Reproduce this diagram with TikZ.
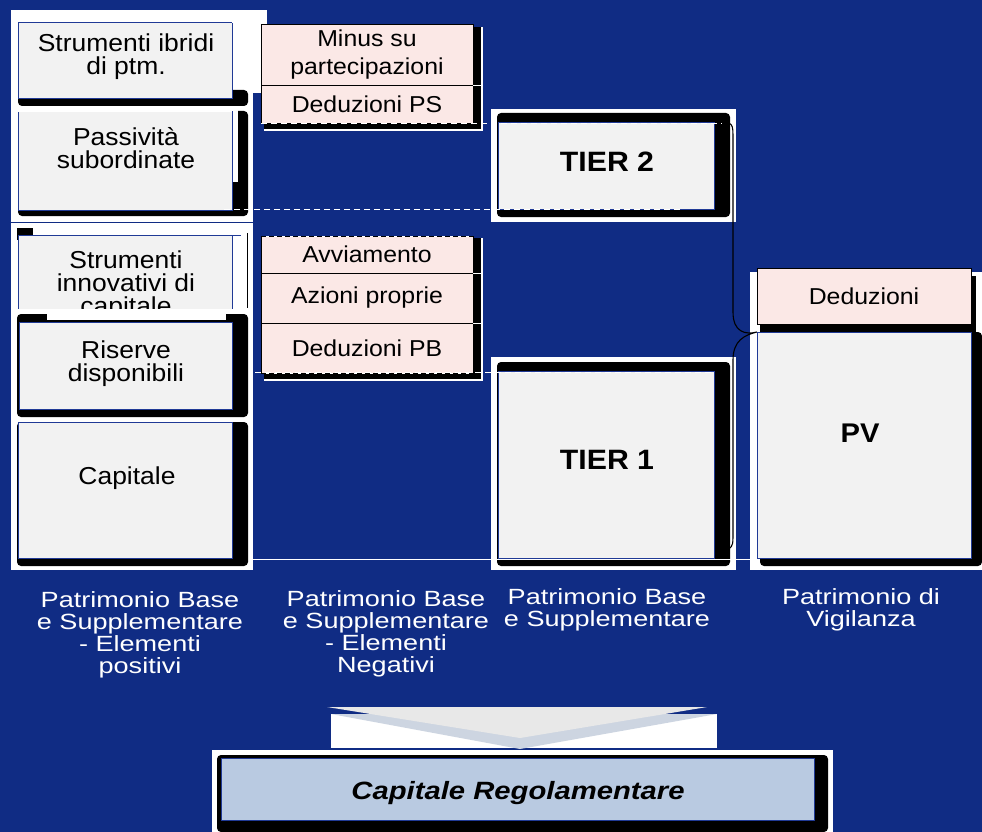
\documentclass[tikz,border=0pt]{standalone}
\usepackage{fontspec}
\setmainfont{Liberation Sans}
\newfontfamily\boxfont[FakeStretch=1.08]{Liberation Sans}
\newfontfamily\lblfont[FakeStretch=1.23]{Liberation Sans}
\newfontfamily\capfont[FakeStretch=1.17]{Liberation Sans}
\usetikzlibrary{positioning}
\definecolor{navy}{RGB}{16,44,132}
\definecolor{boxgray}{RGB}{242,242,242}
\definecolor{pinkfill}{RGB}{251,232,230}
\definecolor{edgeblue}{RGB}{32,58,150}
\definecolor{capfill}{RGB}{185,202,225}
\definecolor{chevgray}{RGB}{232,232,232}
\definecolor{chevblue}{RGB}{205,213,225}
\tikzset{>=latex}
\tikzset{
  graybox/.style={draw=edgeblue, line width=0.9pt, fill=boxgray, anchor=north west, inner sep=0pt, outer sep=0pt},
  pinkbox/.style={draw=black, line width=0.8pt, fill=pinkfill, anchor=north west, inner sep=0pt, outer sep=0pt, minimum width=212pt, align=center, font=\boxfont\fontsize{23}{28}\selectfont},
  boxtext/.style={align=center, inner sep=0pt, font=\boxfont\fontsize{24.5}{23}\selectfont},
  tiertext/.style={inner sep=0pt, font=\boxfont\bfseries\fontsize{28}{30}\selectfont},
  coltitle/.style={text=white, align=center, inner sep=0pt, font=\lblfont\fontsize{22}{22}\selectfont},
  wdash/.style={draw=white, line width=0.8pt, dash pattern=on 6pt off 4pt},
  shade/.style={fill=black, rounded corners=4pt},
}

\begin{document}
\begin{tikzpicture}[x=1pt, y=-1pt]

\fill[navy] (0,0) rectangle (982,832);
\useasboundingbox (0,0) rectangle (982,832);

% elementi positivi
\fill[white] (11,10) rectangle (253,570);
\fill[white] (233,10) rectangle (267,93);
\draw[navy, line width=1.2pt] (11,222.5) -- (253,222.5);

\fill[shade] (18,90) rectangle (248,106);
\node[graybox, minimum width=214pt, minimum height=76pt] (ibr) at (18,22) {};
\node[boxtext] (ibrtxt) at (126,57) {Strumenti ibridi\\di ptm.};

\fill[shade] (18,111) rectangle (248,216);
\fill[white] (232,108) rectangle (238,182);
\node[graybox, minimum width=214pt, minimum height=99pt] (pas) at (18,111) {};
\draw[white, line width=1.2pt] (pas.north west) -- (pas.north east);
\node[boxtext] (pastxt) at (126,148) {Passività\\subordinate};

\begin{scope}
\clip (10,226) rectangle (253,308);
\fill[black] (17,228) rectangle (33,240);
\node[graybox, minimum width=214pt, minimum height=100pt] (inn) at (18,235) {};
\node[boxtext, anchor=north] (inntxt) at (126,251) {Strumenti\\innovativi di\\capitale};
\end{scope}
\draw[edgeblue, line width=0.9pt] (inn.north east) -- ++(9,0);
\draw[black, line width=0.5pt] (247,233) -- (247,308);

\fill[shade] (17,314) rectangle (248,417);
\fill[white] (47,314) rectangle (226,320);
\node[graybox, minimum width=213pt, minimum height=87pt] (ris) at (19,322) {};
\node[boxtext] (ristxt) at (126,364) {Riserve\\disponibili};

\fill[shade] (17,422) rectangle (248,566);
\node[graybox, minimum width=214pt, minimum height=136pt] (cap) at (18,422) {};
\node[boxtext] (captxt) at (127,478) {Capitale};

% elementi negativi
\fill[white] (264,27) rectangle (483,131);
\fill[black] (264,27) rectangle (481,129);
\node[pinkbox, minimum height=61pt] (minus) at (261,24) {Minus su\\partecipazioni};
\node[pinkbox, minimum height=38pt] (dedps) at (261,85) {Deduzioni PS};
\draw[white, line width=0.8pt] (dedps.north east) -- ++(10,0);

\fill[white] (264,238) rectangle (483,381);
\fill[black] (264,238) rectangle (481,379);
\node[pinkbox, minimum height=37pt] (avv) at (261,236) {Avviamento};
\node[pinkbox, minimum height=50pt] (azi) at (261,273) {Azioni proprie};
\node[pinkbox, minimum height=50pt] (dedpb) at (261,323) {Deduzioni PB};
\draw[white, line width=1pt] (avv.north west) -- (avv.north east);
\draw[black, line width=1pt, dash pattern=on 5pt off 3pt] (avv.north west) -- (avv.north east);
\draw[white, line width=1pt] (dedpb.south west) -- (dedpb.south east);
\draw[black, line width=1pt, dash pattern=on 5pt off 3pt] (dedpb.south west) -- (dedpb.south east);
\draw[white, line width=0.8pt] (azi.north east) -- ++(10,0);
\draw[white, line width=0.8pt] (dedpb.north east) -- ++(10,0);

% tier
\fill[white] (491,109) rectangle (736,222);
\fill[shade] (497,113) rectangle (730,217);
\node[graybox, minimum width=216pt, minimum height=87pt] (tier2) at (498,122) {};
\node[tiertext] (t2txt) at (607,162) {TIER 2};

\fill[white] (491,357) rectangle (736,570);
\fill[shade] (497,362) rectangle (730,566);
\node[graybox, minimum width=216pt, minimum height=187pt] (tier1) at (498,371) {};
\node[tiertext] (t1txt) at (607,460) {TIER 1};

% vigilanza
\fill[white] (750,272) rectangle (982,570);
\fill[black] (760,276) rectangle (976,332);
\fill[shade] (760,332) rectangle (982,566);
\node[pinkbox, minimum width=214pt, minimum height=56pt] (ded) at (757,268) {Deduzioni};
\node[graybox, minimum width=214pt, minimum height=226pt] (pv) at (757,332) {};
\node[tiertext, font=\boxfont\bfseries\fontsize{27}{30}\selectfont] (pvtxt) at (860,433) {PV};

% linee tratteggiate
\draw[wdash] (232,22) -- (265,22);
\draw[wdash] (261,123) -- (722,123);
\draw[wdash] (224,209) -- (680,209);
\draw[wdash] (255,372) -- (713,372);
\draw[white, line width=0.8pt] (253,559.5) -- (750,559.5);

% graffa
\coordinate (brend) at (729,549);
\draw[line width=1.1pt] ([xshift=6pt]tier2.north east) .. controls (733,123) .. (733,140)
  -- (733,312) .. controls (733,332) and (745,335) .. (pv.north west)
  .. controls (745,335) and (733,340) .. (733,360)
  -- (733,530) .. controls (733,545) .. (brend);

% titoli colonne
\node[coltitle] (col1) at (140,635) {Patrimonio Base\\e Supplementare\\- Elementi\\positivi};
\node[coltitle] (col2) at (386,634) {Patrimonio Base\\e Supplementare\\- Elementi\\Negativi};
\node[coltitle] (col3) at (607,610) {Patrimonio Base\\e Supplementare};
\node[coltitle] (col4) at (861,610) {Patrimonio di\\Vigilanza};

% freccia
\fill[white] (331,714) rectangle (717,748);
\fill[chevblue] (331,714) -- (717,714) -- (520,749) -- cycle;
\fill[chevgray] (327,707) -- (707,707) -- (520,738) -- cycle;

% capitale regolamentare
\fill[white] (212,750) rectangle (833,832);
\fill[shade] (217,755) rectangle (828,832);
\node[draw=edgeblue, line width=1.2pt, fill=capfill, anchor=north west, minimum width=593pt, minimum height=62pt, inner sep=0pt] (capreg) at (221,758) {};
\node[inner sep=0pt, font=\capfont\bfseries\itshape\fontsize{25}{28}\selectfont] (capregtxt) at (518,793) {Capitale Regolamentare};

\end{tikzpicture}
\end{document}
